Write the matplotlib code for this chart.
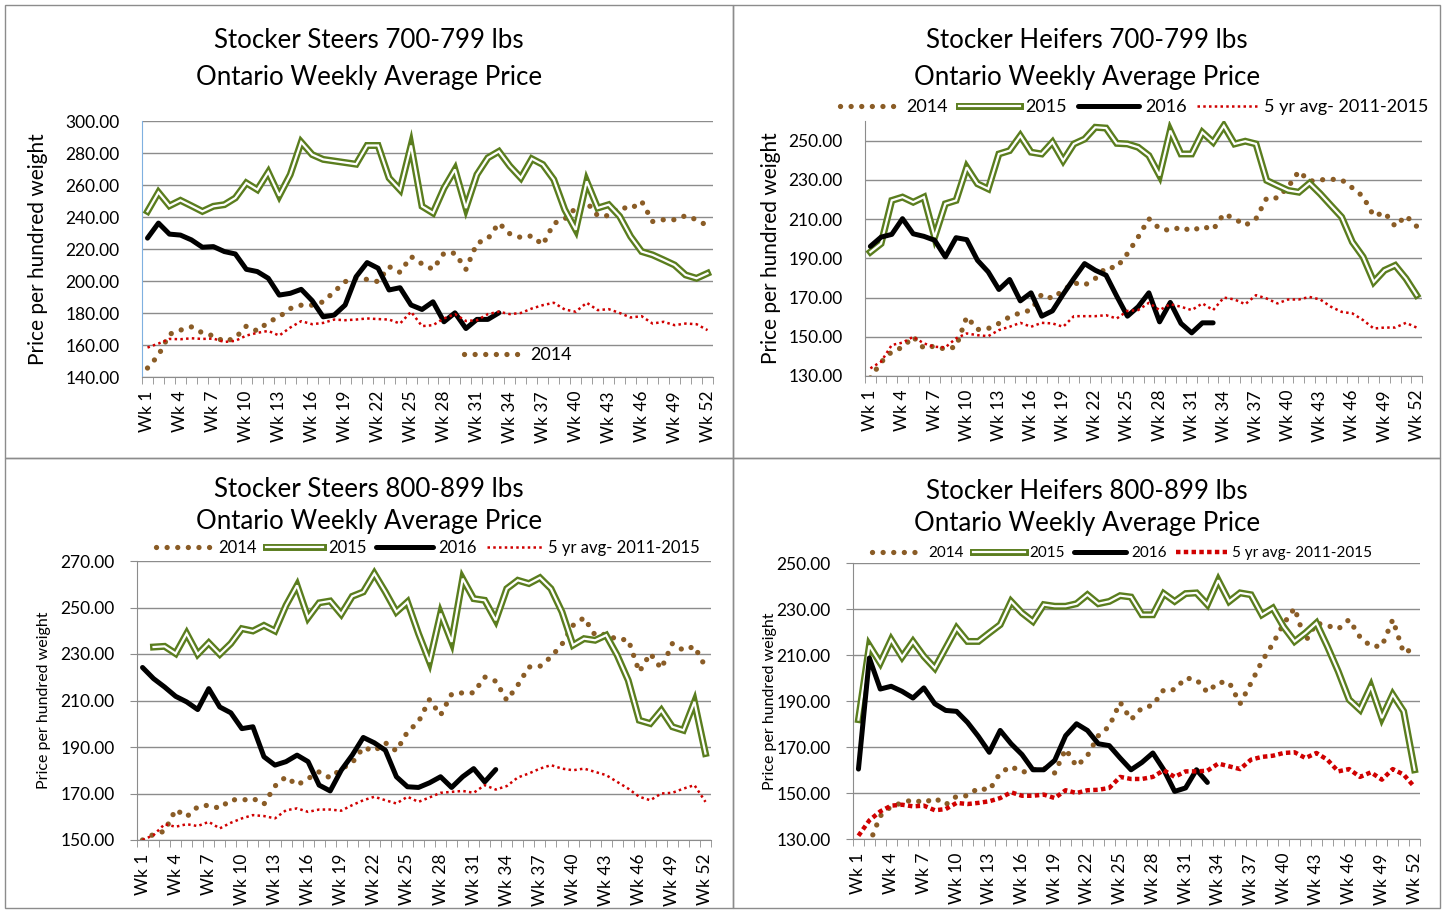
import numpy as np
import matplotlib
matplotlib.use("Agg")
import matplotlib.pyplot as plt
import matplotlib.patheffects as pe
from matplotlib.patches import Rectangle

plt.rcParams['font.family'] = ['Lato', 'DejaVu Sans']

W, H = 1444, 911
nan = np.nan
weeks = np.arange(1, 53)
wk_ticks = list(range(1, 53, 3))
wk_labels = ["Wk %d" % w for w in wk_ticks]

# ---- Stocker Steers 700-799 ----
s2014_tl = [145.6, 153.6, 166.7, 169.3, 171.3, 167.6, 165.7, 162.1, 164.4, 171.8,
            168.8, 174.3, 177.6, 182.8, 184.9, 184.9, 187.0, 193.3, 199.6, 201.7,
            201.0, 199.6, 209.0, 205.4, 215.3, 210.7, 207.3, 217.4, 217.4, 207.3,
            223.6, 226.4, 236.2, 229.5, 227.2, 228.2, 222.6, 236.0, 238.7, 245.6,
            249.2, 240.8, 240.8, 246.2, 245.0, 249.8, 237.2, 238.3, 238.3, 240.8,
            238.3, 234.5]
s2015_tl = [243.5, 255.4, 247.0, 250.4, 247.0, 243.5, 246.7, 247.7, 251.9, 261.3,
            257.1, 268.0, 253.3, 266.5, 286.8, 279.0, 276.0, 275.0, 274.0, 273.0,
            284.7, 284.7, 264.4, 257.0, 284.7, 246.7, 242.5, 258.0, 269.7, 245.6,
            266.5, 277.0, 281.0, 271.8, 264.4, 276.4, 272.8, 263.4, 244.6, 232.0,
            262.3, 245.6, 247.7, 240.4, 227.8, 218.4, 216.3, 213.2, 210.0, 203.8,
            201.7, 204.8]
s2016_tl = [226.8, 236.2, 229.3, 228.7, 225.7, 221.1, 221.5, 218.4, 216.9, 207.3,
            205.9, 201.7, 191.2, 192.3, 194.8, 187.7, 177.6, 178.7, 185.0, 202.7,
            211.5, 208.0, 194.4, 195.8, 185.0, 182.2, 187.0, 174.5, 180.1, 170.3,
            176.0, 176.0, 180.1]
avg_tl = [158.4, 160.9, 163.8, 163.6, 164.2, 163.8, 164.0, 161.9, 162.6, 165.9,
          167.6, 168.8, 165.9, 170.9, 174.9, 173.0, 173.8, 175.9, 175.5, 175.9,
          176.6, 176.2, 175.9, 173.4, 180.8, 171.8, 172.4, 176.6, 179.3, 175.0,
          175.5, 179.3, 180.8, 179.3, 180.0, 182.8, 184.9, 186.4, 182.2, 180.8,
          186.4, 181.8, 182.4, 180.0, 177.2, 178.0, 173.4, 174.5, 172.4, 173.4,
          173.0, 169.3]

# ---- Stocker Heifers 700-799 ----
s2014_tr = [129.0, 137.0, 142.4, 144.6, 150.0, 144.1, 145.3, 143.6, 144.9, 160.2,
            153.7, 154.2, 156.8, 160.2, 162.2, 163.6, 171.7, 169.5, 173.7, 177.5,
            176.3, 179.7, 185.3, 185.3, 192.4, 200.8, 210.2, 205.1, 204.2, 205.9,
            203.9, 206.3, 204.6, 212.7, 210.2, 206.8, 210.2, 220.7, 220.8, 226.3,
            234.4, 229.3, 230.0, 230.3, 230.0, 225.9, 221.5, 211.5, 213.4, 206.3,
            211.7, 206.3]
s2015_tr = [193.2, 197.5, 219.5, 221.2, 218.6, 221.2, 200.8, 217.8, 219.5, 236.4,
            228.0, 225.4, 243.2, 244.9, 252.5, 244.1, 243.2, 249.2, 239.8, 248.3,
            250.8, 256.8, 256.4, 248.6, 248.3, 246.6, 242.4, 232.2, 255.1, 243.2,
            243.2, 254.2, 249.2, 257.6, 248.3, 249.7, 248.3, 229.7, 227.1, 224.6,
            223.7, 228.3, 222.9, 216.9, 211.0, 198.3, 190.7, 178.0, 183.9, 186.4,
            179.7, 171.2]
s2016_tr = [196.1, 200.8, 202.2, 210.2, 202.5, 201.2, 199.2, 190.7, 200.5, 199.5,
            189.0, 183.1, 174.1, 179.2, 168.3, 172.4, 160.5, 163.2, 171.7, 179.7,
            187.3, 183.9, 181.4, 170.7, 160.5, 165.3, 172.4, 157.6, 167.5, 156.8,
            152.0, 157.1, 157.1]
avg_tr = [133.9, 137.3, 145.8, 147.0, 150.0, 146.6, 144.9, 144.6, 149.2, 151.7,
          150.8, 150.3, 153.4, 155.1, 157.1, 155.1, 157.1, 156.8, 155.1, 160.5,
          160.5, 160.5, 161.0, 159.3, 163.2, 163.6, 167.3, 163.6, 166.6, 165.3,
          163.6, 167.0, 163.6, 170.0, 169.0, 166.6, 171.2, 169.5, 167.0, 169.0,
          169.0, 170.3, 169.0, 165.3, 162.7, 161.9, 158.5, 154.2, 154.7, 154.7,
          157.1, 154.7]

# ---- Stocker Steers 800-899 ----
s2014_bl = [150.0, 152.4, 153.8, 163.1, 160.0, 164.3, 165.0, 163.6, 167.4, 167.1,
            167.9, 165.4, 173.2, 177.2, 173.6, 176.4, 179.3, 176.7, 180.6, 183.2,
            189.8, 188.3, 191.8, 188.3, 196.5, 200.8, 210.4, 203.7, 212.7, 213.3,
            213.3, 220.1, 218.3, 210.1, 216.6, 224.4, 224.7, 228.7, 234.2, 242.3,
            245.6, 238.1, 238.5, 236.2, 236.2, 222.3, 230.2, 223.7, 234.5, 231.6,
            233.3, 224.4]
s2015_bl = [nan, 233.0, 233.3, 230.2, 238.8, 229.9, 234.8, 229.9, 234.5, 240.9,
            239.9, 242.3, 239.9, 250.9, 259.5, 245.6, 252.0, 252.8, 247.1, 254.8,
            256.7, 264.6, 256.7, 248.1, 252.4, 238.8, 226.6, 247.4, 235.2, 262.4,
            253.8, 253.1, 244.5, 258.1, 261.7, 260.3, 262.8, 258.1, 248.1, 233.8,
            236.6, 235.9, 238.1, 229.5, 218.7, 201.5, 200.1, 205.8, 198.7, 197.2,
            209.4, 187.2]
s2016_bl = [224.2, 219.4, 215.8, 211.8, 209.4, 206.1, 215.1, 207.2, 204.7, 197.9,
            198.7, 185.8, 182.2, 183.7, 186.5, 183.7, 173.6, 171.1, 180.0, 186.5,
            194.1, 191.8, 188.6, 177.2, 172.9, 172.6, 174.6, 177.2, 172.6, 177.2,
            180.7, 175.0, 180.3]
avg_bl = [150.0, 152.1, 156.8, 155.7, 156.8, 156.0, 157.8, 155.0, 157.4, 159.3,
          160.7, 160.3, 159.3, 162.8, 163.6, 162.1, 163.1, 163.1, 162.6, 165.0,
          167.1, 168.6, 167.1, 165.7, 168.6, 166.4, 168.3, 170.3, 170.7, 171.1,
          170.3, 173.6, 171.7, 173.2, 176.9, 178.6, 180.7, 182.2, 180.7, 180.0,
          180.7, 179.3, 177.9, 175.0, 172.1, 168.6, 167.1, 170.0, 170.3, 172.1,
          173.6, 166.4]

# ---- Stocker Heifers 800-899 ----
s2014_br = [126.0, 128.0, 140.0, 144.2, 145.7, 147.1, 145.7, 147.8, 144.9, 148.6,
            148.8, 152.2, 151.2, 158.7, 161.6, 159.0, 160.1, 160.9, 158.7, 169.1,
            161.6, 166.2, 174.9, 179.0, 189.4, 181.9, 187.0, 188.1, 194.9, 194.9,
            200.0, 199.3, 193.8, 198.1, 198.1, 188.8, 197.8, 207.2, 214.9, 223.6,
            230.4, 215.9, 223.9, 222.8, 221.3, 225.4, 217.8, 213.8, 213.8, 225.4,
            210.9, 213.0]
s2015_br = [181.9, 214.1, 206.5, 216.7, 209.1, 215.9, 209.4, 204.3, 213.0, 221.7,
            215.9, 215.9, 219.6, 223.2, 233.3, 228.3, 224.6, 231.9, 231.2, 231.2,
            232.3, 236.2, 232.3, 233.3, 235.8, 235.2, 227.5, 227.5, 236.7, 233.3,
            236.7, 237.0, 231.9, 242.5, 233.3, 237.0, 236.2, 227.5, 230.4, 222.2,
            215.9, 219.6, 223.9, 213.8, 202.9, 190.6, 186.2, 196.4, 182.6, 192.8,
            185.5, 160.1]
s2016_br = [160.4, 208.7, 195.2, 196.4, 194.2, 191.3, 195.7, 188.8, 185.9, 185.5,
            180.7, 174.6, 167.7, 177.2, 171.4, 166.7, 160.1, 160.1, 164.2, 174.9,
            180.1, 177.2, 171.4, 170.6, 165.2, 160.1, 163.3, 167.4, 160.1, 150.7,
            152.2, 160.1, 154.6]
avg_br = [131.4, 138.1, 142.0, 144.5, 144.9, 144.2, 144.5, 142.5, 143.0, 145.7,
          145.2, 145.7, 146.4, 147.8, 150.3, 148.8, 148.8, 149.3, 147.8, 151.2,
          150.0, 151.2, 151.4, 152.2, 157.0, 156.1, 156.1, 157.0, 159.9, 157.0,
          159.4, 159.4, 159.7, 162.8, 161.6, 160.4, 164.5, 165.7, 166.2, 167.4,
          167.7, 165.2, 167.4, 164.5, 159.4, 160.4, 157.0, 159.0, 155.8, 160.4,
          158.0, 152.6]

GREEN = '#5a7d1e'
BROWN = '#8a5c26'
RED = '#d00000'
GRID = '#8c8c8c'

fig = plt.figure(figsize=(W / 100, H / 100), dpi=100)


def px_axes(left, top, right, bottom):
    return fig.add_axes([left / W, 1 - bottom / H, (right - left) / W, (bottom - top) / H])


def pad16(vals):
    return list(vals) + [nan] * (52 - len(vals))


def panel(box, ylim, yticks, data, title, title_xy, ylab_x, ylab_size,
          leg=None, leg_size=12, big_red=False, blue_axis=False, yticklen=0,
          tick_size=12.5):
    ax = px_axes(*box)
    s14, s15, s16, avg = data
    h14, = ax.plot(weeks, s14, color=BROWN, lw=3.8, linestyle=(0, (0.01, 2.0)),
                   dash_capstyle='round', label='2014', zorder=2)
    h15, = ax.plot(weeks, s15, color='white', lw=1.6, label='2015', zorder=3,
                   solid_joinstyle='miter',
                   path_effects=[pe.Stroke(linewidth=5.0, foreground=GREEN), pe.Normal()])
    h16, = ax.plot(weeks, pad16(s16), color='black', lw=3.6, label='2016', zorder=4,
                   solid_joinstyle='round', solid_capstyle='round')
    if big_red:
        hav, = ax.plot(weeks, avg, color=RED, lw=3.2, linestyle=(0, (1, 0.75)),
                       label='5 yr avg- 2011-2015', zorder=5)
    else:
        hav, = ax.plot(weeks, avg, color=RED, lw=1.8, linestyle=(0, (1, 1.3)),
                       label='5 yr avg- 2011-2015', zorder=5)

    ax.set_xlim(0.5, 52.5)
    ax.set_ylim(*ylim)
    ax.set_yticks(yticks)
    ax.set_yticklabels(["%.2f" % v for v in yticks], fontsize=tick_size)
    ax.grid(axis='y', color=GRID, lw=1)
    ax.set_axisbelow(True)
    ax.tick_params(axis='y', length=yticklen, pad=16 - yticklen, color=GRID)
    ax.set_xticks(wk_ticks)
    ax.set_xticklabels(wk_labels, rotation=90, fontsize=tick_size)
    ax.set_xticks(np.arange(0.5, 53, 1), minor=True)
    ax.tick_params(axis='x', which='major', length=0, pad=10)
    ax.tick_params(axis='x', which='minor', length=5, color=GRID, direction='out')
    for s in ['top', 'right']:
        ax.spines[s].set_visible(False)
    ax.spines['bottom'].set_color(GRID)
    ax.spines['left'].set_color('#7fb0e0' if blue_axis else GRID)

    fig.text(title_xy[0] / W, 1 - title_xy[1] / H, title[0],
             ha='center', va='center', fontsize=18.6)
    fig.text(title_xy[0] / W, 1 - title_xy[2] / H, title[1],
             ha='center', va='center', fontsize=18.6)
    fig.text(ylab_x / W, 1 - (box[1] + box[3]) / 2 / H, 'Price per hundred weight',
             rotation=90, ha='center', va='center', fontsize=ylab_size)

    handles = [h14, h15, h16, hav]
    if leg is not None:
        n = leg[2]
        fig.legend(handles=handles[:n], loc='center', ncol=n,
                   bbox_to_anchor=(leg[0] / W, 1 - leg[1] / H), frameon=False,
                   fontsize=leg_size, handlelength=3.4, columnspacing=0.6,
                   handletextpad=0.3, borderpad=0)
    return ax


panel((142, 121, 713, 377), (140, 300), np.arange(140, 301, 20),
      (s2014_tl, s2015_tl, s2016_tl, avg_tl),
      ('Stocker Steers 700-799 lbs', 'Ontario Weekly Average Price'), (369, 41, 77),
      38, 15, leg=(518, 355, 1), leg_size=13, blue_axis=True)

panel((865, 121, 1422, 376), (130, 260), np.arange(130, 251, 20),
      (s2014_tr, s2015_tr, s2016_tr, avg_tr),
      ('Stocker Heifers 700-799 lbs', 'Ontario Weekly Average Price'), (1087, 41, 77),
      771, 15, leg=(1134, 107, 4), leg_size=13)

panel((137, 561, 711, 840), (150, 270), np.arange(150, 271, 20),
      (s2014_bl, s2015_bl, s2016_bl, avg_bl),
      ('Stocker Steers 800-899 lbs', 'Ontario Weekly Average Price'), (369, 489, 521),
      44, 11.5, leg=(428, 548, 4), leg_size=12, yticklen=5)

panel((853, 563, 1420, 839), (130, 250), np.arange(130, 251, 20),
      (s2014_br, s2015_br, s2016_br, avg_br),
      ('Stocker Heifers 800-899 lbs', 'Ontario Weekly Average Price'), (1087, 492, 524),
      770, 11.5, leg=(1122, 553, 4), leg_size=11, big_red=True, yticklen=5)

# chart frames
for (x0, y0, x1, y1) in [(5, 5, 733, 458), (733, 5, 1440, 458),
                         (5, 458, 733, 908), (733, 458, 1440, 908)]:
    fig.patches.append(Rectangle((x0 / W, 1 - y1 / H), (x1 - x0) / W, (y1 - y0) / H,
                                 transform=fig.transFigure, fill=False,
                                 edgecolor='#8c8c8c', lw=1))

fig.savefig('out.png', dpi=100)
